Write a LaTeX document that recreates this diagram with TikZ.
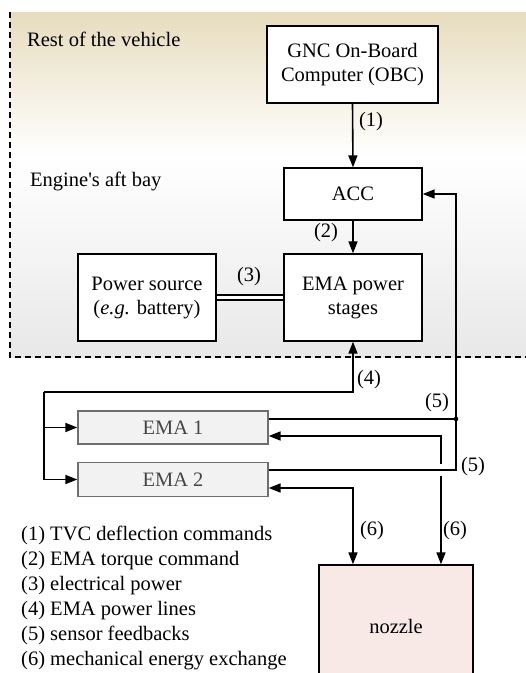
\documentclass[tikz,border=0pt]{standalone}
\usepackage{fontspec}
\setmainfont{Liberation Serif}
\newfontfamily\plainrm{Liberation Serif}[Ligatures=TeXOff]
\usetikzlibrary{arrows.meta,calc}
\definecolor{bgtop}{RGB}{231,220,189}
\definecolor{bgbot}{RGB}{232,232,232}
\definecolor{emafill}{RGB}{242,242,242}
\definecolor{emaline}{RGB}{110,110,110}
\definecolor{ematext}{RGB}{70,70,70}
\definecolor{nozfill}{RGB}{248,232,230}
\begin{document}
\begin{tikzpicture}[x=1pt,y=-1pt,
  font=\fontsize{20.5}{24}\selectfont,
  box/.style={draw=black, line width=1.3pt, fill=white, align=center, inner sep=0pt},
  emabox/.style={draw=emaline, line width=1.3pt, fill=emafill, text=ematext, inner sep=0pt},
  conn/.style={line width=1.6pt},
  arr/.style={conn, -{Triangle[length=12pt,width=9pt]}},
  rarr/.style={conn, {Triangle[length=12pt,width=9pt]}-},
  barr/.style={conn, {Triangle[length=12pt,width=9pt]}-{Triangle[length=12pt,width=9pt]}},
  lbl/.style={inner sep=0pt},
  legend/.style={inner sep=0pt, anchor=base west},
]
\useasboundingbox (0,0) rectangle (526,673);
\clip (0,0) rectangle (526,673);
% background region
\shade[top color=bgtop, bottom color=white] (10,12) rectangle (526,156);
\shade[top color=white, bottom color=bgbot] (10,155.5) rectangle (526,357);
\draw[line width=1.3pt, dash pattern=on 6pt off 4pt] (10,12) -- (10,357) -- (526,357);
\node[lbl, anchor=base west] (rest) at (27,46) {Rest of the vehicle};
\node[lbl, anchor=base west] (aft) at (30,186) {Engine{\plainrm '}s aft bay};

% boxes
\node[box, minimum width=171pt, minimum height=77pt] (obc) at (352.5,64.5) {GNC On-Board\\Computer (OBC)};
\node[box, minimum width=138pt, minimum height=52pt] (acc) at (353,194) {ACC};
\node[box, minimum width=138pt, minimum height=87pt] (ps) at (147,297.5) {Power source\\(\textit{e.g.} battery)};
\node[box, minimum width=138pt, minimum height=87pt] (eps) at (353,297.5) {EMA power\\stages};
\node[emabox, minimum width=190pt, minimum height=33pt] (ema1) at (173,427.5) {EMA 1};
\node[emabox, minimum width=190pt, minimum height=34pt] (ema2) at (173,479.5) {EMA 2};
\node[box, fill=nozfill, minimum width=154pt, minimum height=122pt] (noz) at (396,626) {nozzle};

% (1), (2), (3)
\draw[arr] (obc.south) -- (acc.north);
\node[lbl] (l1) at (371,122) {(1)};
\draw[arr] (acc.south) -- (eps.north);
\node[lbl] (l2) at (326,233) {(2)};
\draw[line width=1.3pt, double=white, double distance=3.7pt] (ps.east) -- (eps.west);
\node[lbl] (l3) at (249,277) {(3)};

% (4) power lines
\coordinate (c4) at (44,392);
\draw[arr] (c4) -| (eps.south);
\draw[arr] (c4) |- (ema1.west);
\draw[arr] (c4) |- (ema2.west);
\node[lbl] (l4) at (369,380) {(4)};

% (5) sensor feedbacks
\coordinate (j5) at (456,419);
\draw[conn] ($(ema1.east)+(0,-8.5)$) -- (j5);
\draw[conn] ($(ema2.east)+(0,-9.5)$) -| (j5);
\draw[arr] (j5) |- (acc.east);
\fill (j5) circle (2.3pt);
\node[lbl] (l5a) at (437,403) {(5)};
\node[lbl] (l5b) at (473,467) {(5)};

% (6) mechanical energy exchange
\coordinate (g1) at (441,464);
\coordinate (g2) at (441,476);
\draw[rarr] ($(ema1.east)+(0,8.5)$) -| (g1);
\draw[arr] (g2) -- (g2 |- noz.north);
\draw[barr] ($(ema2.east)+(0,8.5)$) -| (eps.south |- noz.north);
\node[lbl] (l6a) at (372,531) {(6)};
\node[lbl] (l6b) at (455,531) {(6)};

% legend
\node[legend] (k1) at (21,540) {(1) TVC deflection commands};
\node[legend] (k2) at (21,565) {(2) EMA torque command};
\node[legend] (k3) at (21,590) {(3) electrical power};
\node[legend] (k4) at (21,615) {(4) EMA power lines};
\node[legend] (k5) at (21,640) {(5) sensor feedbacks};
\node[legend] (k6) at (21,665) {(6) mechanical energy exchange};
\end{tikzpicture}
\end{document}
